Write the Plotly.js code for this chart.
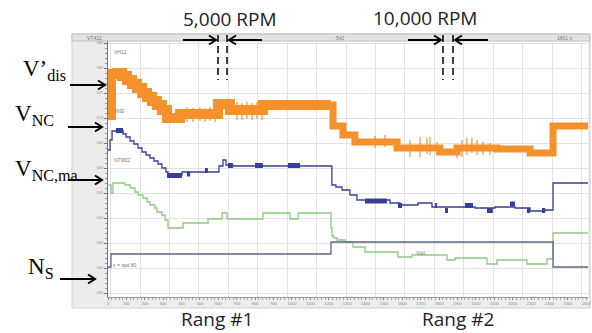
<!DOCTYPE html>
<html><head><meta charset="utf-8">
<script src="https://cdn.plot.ly/plotly-3.0.1.min.js"></script>
<style>html,body{margin:0;padding:0;background:#fff}#chart{width:592px;height:333px}</style>
</head><body><div id="chart"></div>
<script>
// ---- data (time units, signal units) ----
// V'dis range 1 and range 2 (step curves, centre of the band)
const vdis1T = [0, 16, 49, 76, 103, 130, 158, 185, 212, 239, 266, 293, 321, 391, 598, 663, 842, 1212];
const vdis1V = [570.6, 578.8, 579.0, 578.4, 577.6, 576.8, 576.0, 575.0, 574.2, 573.4, 572.6, 571.6, 570.0, 570.8, 572.8, 571.6, 572.6, 572.6];
const vdis2T = [1212, 1223, 1277, 1342, 1571, 1804, 1897, 2114, 2294, 2419, 2609];
const vdis2V = [572.6, 568.4, 566.6, 565.2, 564.0, 563.2, 564.0, 563.8, 563.0, 568.4, 568.4];
// V'dis ripple spikes
const spikeT  = [429, 462, 500, 527, 554, 582, 701, 728, 755, 783, 810, 837, 1451, 1505, 1641, 1696, 1734, 1750, 1788, 1897, 1924, 1951, 1978, 2006, 2038, 2076];
const spikeLo = [569.2, 569.2, 569.4, 569.2, 569.4, 569.2, 569.6, 569.6, 569.8, 569.6, 569.8, 569.6, 564.0, 564.2, 562.2, 562.2, 562.8, 562.6, 562.6, 562.0, 562.2, 562.6, 563.0, 562.6, 562.6, 562.6];
const spikeHi = [572.2, 572.0, 572.2, 572.0, 572.2, 572.4, 573.2, 573.0, 573.2, 573.0, 573.2, 573.0, 566.4, 566.6, 565.6, 566.2, 566.0, 566.2, 565.2, 564.2, 565.6, 566.0, 566.0, 565.6, 565.2, 565.0];
// V_NC
const vncT = [0, 11, 22, 82, 98, 120, 141, 163, 185, 207, 228, 250, 272, 293, 315, 326, 402, 603, 625, 641, 679, 1217, 1239, 1272, 1315, 1353, 1533, 1587, 1685, 1761, 1995, 2103, 2212, 2294, 2375, 2419, 2609];
const vncV = [563.6, 565.6, 567.4, 566.8, 566.2, 565.4, 564.8, 564.0, 563.2, 562.6, 562.0, 561.4, 560.8, 560.0, 559.2, 558.6, 559.2, 560.4, 561.6, 560.6, 560.4, 556.6, 556.2, 555.6, 554.6, 553.6, 553.0, 552.6, 553.0, 552.2, 552.0, 552.2, 552.0, 551.4, 551.6, 557.0, 557.0];
// V_NC dense blocks (start, end, level)
const blkT0 = [43, 321, 429, 527, 652, 799, 978, 1397, 1576, 1777, 1832, 1940, 2060, 2185, 2277, 2359];
const blkT1 = [82, 402, 446, 543, 679, 842, 1044, 1516, 1598, 1788, 1848, 1984, 2092, 2212, 2294, 2375];
const blkV  = [567.5, 558.5, 558.8, 559.5, 560.5, 560.5, 560.5, 553.4, 552.5, 552.5, 551.5, 552.5, 551.5, 552.8, 551.5, 551.5];
// V_NC,ma
const vmaT = [5, 16, 27, 92, 120, 147, 163, 190, 212, 228, 255, 266, 293, 310, 326, 408, 544, 620, 647, 842, 989, 1033, 1212, 1217, 1228, 1245, 1288, 1332, 1397, 1576, 1652, 1842, 1886, 2060, 2114, 2277, 2386, 2419, 2609];
const vmaV = [556.6, 555.0, 557.0, 556.6, 556.0, 555.2, 554.6, 554.0, 553.2, 552.6, 552.0, 551.2, 550.6, 549.6, 548.0, 549.0, 549.8, 551.0, 549.8, 551.0, 549.8, 551.0, 548.0, 546.4, 546.0, 545.6, 545.2, 544.2, 543.2, 542.2, 542.6, 541.6, 542.0, 540.8, 541.6, 540.8, 541.8, 547.0, 547.0];
// N_S
const nsT = [0, 16, 1212, 2419, 2609];
const nsV = [540.2, 542.8, 545.2, 540.2, 540.2];
// axis
const xRange = [0, 2609];
const yRange = [534.2, 585.4];

// ---- helpers ----
const W = 592, H = 333;
const PX = x => x / W, PY = y => 1 - y / H;
function segs(t0, t1, v0, v1) {
  const x = [], y = [];
  t0.forEach((t, i) => { x.push(t, t1[i], null); y.push(v0[i], v1[i], null); });
  return {x, y};
}

const orange = '#f5912a', blue = '#36409b', green = '#8bcb7d', slate = '#5b6585';
const sp = segs(spikeT, spikeT, spikeLo, spikeHi);
const bk = segs(blkT0, blkT1, blkV, blkV);

const traces = [
  {x: nsT, y: nsV, xaxis: 'x2', mode: 'lines', line: {shape: 'hv', color: slate, width: 1.3}, hoverinfo: 'skip'},
  {x: vmaT, y: vmaV, mode: 'lines', line: {shape: 'hv', color: green, width: 1.3}, hoverinfo: 'skip'},
  {x: vncT, y: vncV, mode: 'lines', line: {shape: 'hv', color: blue, width: 1.3}, hoverinfo: 'skip'},
  {x: bk.x, y: bk.y, mode: 'lines', line: {color: blue, width: 5}, hoverinfo: 'skip'},
  {x: vdis1T, y: vdis1V, mode: 'lines', line: {shape: 'hv', color: orange, width: 10}, hoverinfo: 'skip'},
  {x: vdis2T, y: vdis2V, mode: 'lines', line: {shape: 'hv', color: orange, width: 7}, hoverinfo: 'skip'},
  {x: sp.x, y: sp.y, mode: 'lines', line: {color: orange, width: 1.2}, hoverinfo: 'skip'}
];

const serif = {family: 'Liberation Serif, Times New Roman, serif', size: 23, color: '#000'};
const sans = {family: 'Open Sans, Liberation Sans, sans-serif', size: 19, color: '#222'};
const tiny = {family: 'Liberation Sans, sans-serif', size: 5, color: '#777'};

// arrows drawn as shapes: shaft + open chevron head
function arrowShapes(xh, yh, len, dir) {
  const xt = xh - dir * len, hx = xh - dir * 7;
  return [
    {type: 'line', xref: 'paper', yref: 'paper', x0: PX(xt), x1: PX(xh - dir * 1), y0: PY(yh), y1: PY(yh),
     line: {color: '#000', width: 2}, layer: 'above'},
    {type: 'path', xref: 'paper', yref: 'paper', layer: 'above',
     path: 'M' + PX(hx) + ',' + PY(yh - 4.5) + 'L' + PX(xh) + ',' + PY(yh) + 'L' + PX(hx) + ',' + PY(yh + 4.5),
     line: {color: '#000', width: 2}}
  ];
}
function label(x, y, text, font, xanchor) {
  return {xref: 'paper', yref: 'paper', x: PX(x), y: PY(y), text: text, showarrow: false,
          xanchor: xanchor || 'center', yanchor: 'middle', font: font, borderpad: 0};
}
function dashLine(x) {
  return {type: 'line', xref: 'paper', yref: 'paper', x0: PX(x), x1: PX(x), y0: PY(35), y1: PY(80),
          line: {color: '#000', width: 1.5, dash: '7px,4px'}, layer: 'above'};
}

const layout = {
  width: W, height: H, margin: {l: 0, r: 0, t: 0, b: 0},
  paper_bgcolor: '#fff', plot_bgcolor: 'rgba(0,0,0,0)', showlegend: false,
  xaxis: {domain: [PX(108), PX(588)], range: xRange, tick0: 0, dtick: 100, ticks: 'outside', ticklen: 2,
          tickcolor: '#888', tickfont: {family: 'Liberation Sans, sans-serif', size: 4, color: '#888'},
          showgrid: false, zeroline: false, showline: true, linecolor: '#999',
          minor: {dtick: 20, ticks: 'outside', ticklen: 1.5, tickcolor: '#aaa'}},
  xaxis2: {overlaying: 'x', anchor: 'y', range: xRange, tick0: 14, dtick: 160, showgrid: true, gridcolor: '#e2e2e2',
           gridwidth: 1, showticklabels: false, ticks: '', zeroline: false, showline: false},
  yaxis: {domain: [PY(297), PY(41)], range: yRange, tick0: 535, dtick: 5, ticks: 'outside', ticklen: 3,
          tickcolor: '#777', tickfont: {family: 'Liberation Sans, sans-serif', size: 4, color: '#888'},
          showgrid: true, gridcolor: '#e2e2e2', zeroline: false,
          showline: true, linecolor: '#777', minor: {dtick: 1, ticks: 'outside', ticklen: 2, tickcolor: '#999'}},
  shapes: [
    {type: 'rect', xref: 'paper', yref: 'paper', x0: PX(72), x1: PX(590), y0: PY(308), y1: PY(34),
     fillcolor: '#ececec', line: {color: '#d0d0d0', width: 1}, layer: 'below'},
    {type: 'rect', xref: 'paper', yref: 'paper', x0: PX(108), x1: PX(588), y0: PY(297), y1: PY(41),
     fillcolor: '#ffffff', line: {width: 0}, layer: 'below'},
    {type: 'rect', xref: 'paper', yref: 'paper', x0: PX(72), x1: PX(590), y0: PY(41), y1: PY(34),
     fillcolor: '#e2e2e2', line: {color: '#bdbdbd', width: 1}, layer: 'below'},
    dashLine(218), dashLine(227), dashLine(443), dashLine(453)
  ].concat(
    arrowShapes(216, 40, 33, 1), arrowShapes(229, 40, 33, -1),
    arrowShapes(441, 40, 33, 1), arrowShapes(455, 40, 33, -1),
    arrowShapes(105, 85, 35, 1), arrowShapes(102, 127, 34, 1),
    arrowShapes(102, 180, 34, 1), arrowShapes(95, 279, 35, 1)
  ),
  annotations: [
    label(230, 19, '5,000 RPM', sans), label(425, 18, '10,000 RPM', sans),
    label(217, 319, 'Rang #1', sans), label(458, 319, 'Rang #2', sans),
    label(22, 70, 'V’<sub>dis</sub>', serif, 'left'),
    label(14, 115, 'V<sub>NC</sub>', serif, 'left'),
    label(14, 170, 'V<sub>NC,ma</sub>', serif, 'left'),
    label(27, 268, 'N<sub>S</sub>', serif, 'left'),
    label(86, 38, 'VT412', tiny, 'left'), label(340, 38, '542', tiny), label(565, 38, '1651 s', tiny),
    label(113, 52, 'VH12', tiny, 'left'), label(113, 111, 'VNE', tiny, 'left'),
    label(113, 160, 'NTM02', tiny, 'left'), label(112, 265, 'x = spd 80', tiny, 'left'),
    label(420, 253, 'Vdd', tiny)
  ]
};

Plotly.newPlot('chart', traces, layout, {staticPlot: true, displayModeBar: false});
</script></body></html>
